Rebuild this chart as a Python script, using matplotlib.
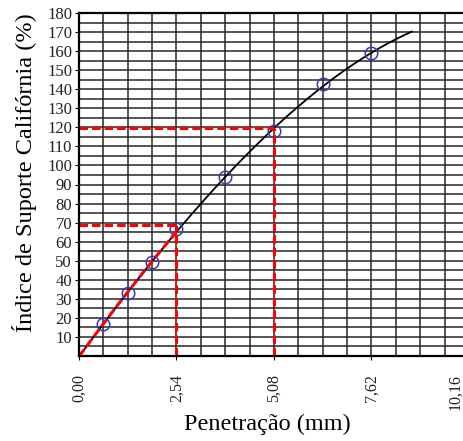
import matplotlib
matplotlib.use('Agg')
import matplotlib.pyplot as plt
import matplotlib.transforms as mtransforms
import numpy as np

plt.rcParams['font.family'] = ['Liberation Serif', 'DejaVu Serif']

# CBR test readings: penetration (mm) vs bearing ratio (%)
penetration = [0.635, 1.27, 1.905, 2.54, 3.81, 5.08, 6.35, 7.62]
cbr = [16.6, 32.9, 49.5, 66.6, 93.8, 118.2, 142.7, 158.8]

# reference penetrations and the ratios
ref_pen = [2.54, 5.08]
ref_cbr = [68.5, 119.5]

x_ticks = [0.0, 2.54, 5.08, 7.62, 10.16]
x_ticklabels = ['0,00', '2,54', '5,08', '7,62', '10,16']
y_ticks = list(range(10, 190, 10))
curve_end = 8.67

fig = plt.figure(figsize=(4.64, 4.41), dpi=100)
ax = fig.add_axes([79 / 464, (441 - 356) / 441, 390 / 464, 343 / 441])

# fine grid: 0.635 mm by 5 %
for gx in np.arange(0, 10.16 + 1e-6, 0.635):
    ax.axvline(gx, color='0.15', lw=1.1, zorder=1)
for gy in np.arange(0, 180 + 1e-6, 5):
    ax.axhline(gy, color='0.15', lw=1.1, zorder=1)

# smooth curve through the origin and the readings
xs = np.r_[0.0, penetration]
ys = np.r_[0.0, cbr]
coef = np.polyfit(xs, ys, 3)
xc = np.linspace(0, curve_end, 200)
ax.plot(xc, np.polyval(coef, xc), color='black', lw=1.3, zorder=3)

ax.plot(penetration, cbr, 'o', mfc='none', mec='#3a3ab8', ms=9, mew=1.1, zorder=4)

# reference lines
dash = (0, (2.8, 1.3))
for p, c in zip(ref_pen, ref_cbr):
    ax.plot([0, p], [c, c], color='red', lw=2.2, ls=dash, zorder=5)
    ax.plot([p, p], [0, c], color='red', lw=2.2, ls=dash, zorder=5)
x0 = np.linspace(0, ref_pen[0], 50)
ax.plot(x0, np.polyval(coef, x0), color='red', lw=2.2, ls=dash, zorder=5)

ax.set_xlim(0, 10.16)
ax.set_ylim(0, 180)
ax.set_xticks(x_ticks)
ax.set_xticklabels(x_ticklabels, rotation=90, fontsize=11.5, color='#222222')
ax.set_yticks(y_ticks)
ax.set_yticklabels([str(v) for v in y_ticks], fontsize=12, color='#222222')
ax.tick_params(axis='x', length=3, pad=10)
ax.tick_params(axis='y', length=3, pad=2)
for s in ax.spines.values():
    s.set_linewidth(1.6)
    s.set_zorder(6)

# last label sits at the figure edge, pull it in a little
last = ax.get_xticklabels()[-1]
last.set_transform(last.get_transform() +
                   mtransforms.ScaledTranslation(-14 / 100, 0, fig.dpi_scale_trans))

ax.set_xlabel('Penetração (mm)', fontsize=17.5, va='top')
ax.xaxis.set_label_coords(0.482, -0.17)
ax.set_ylabel('Índice de Suporte Califórnia (%)', fontsize=17.5)
ax.yaxis.set_label_coords(-0.108, 0.536)

fig.savefig('out.png', dpi=100)
